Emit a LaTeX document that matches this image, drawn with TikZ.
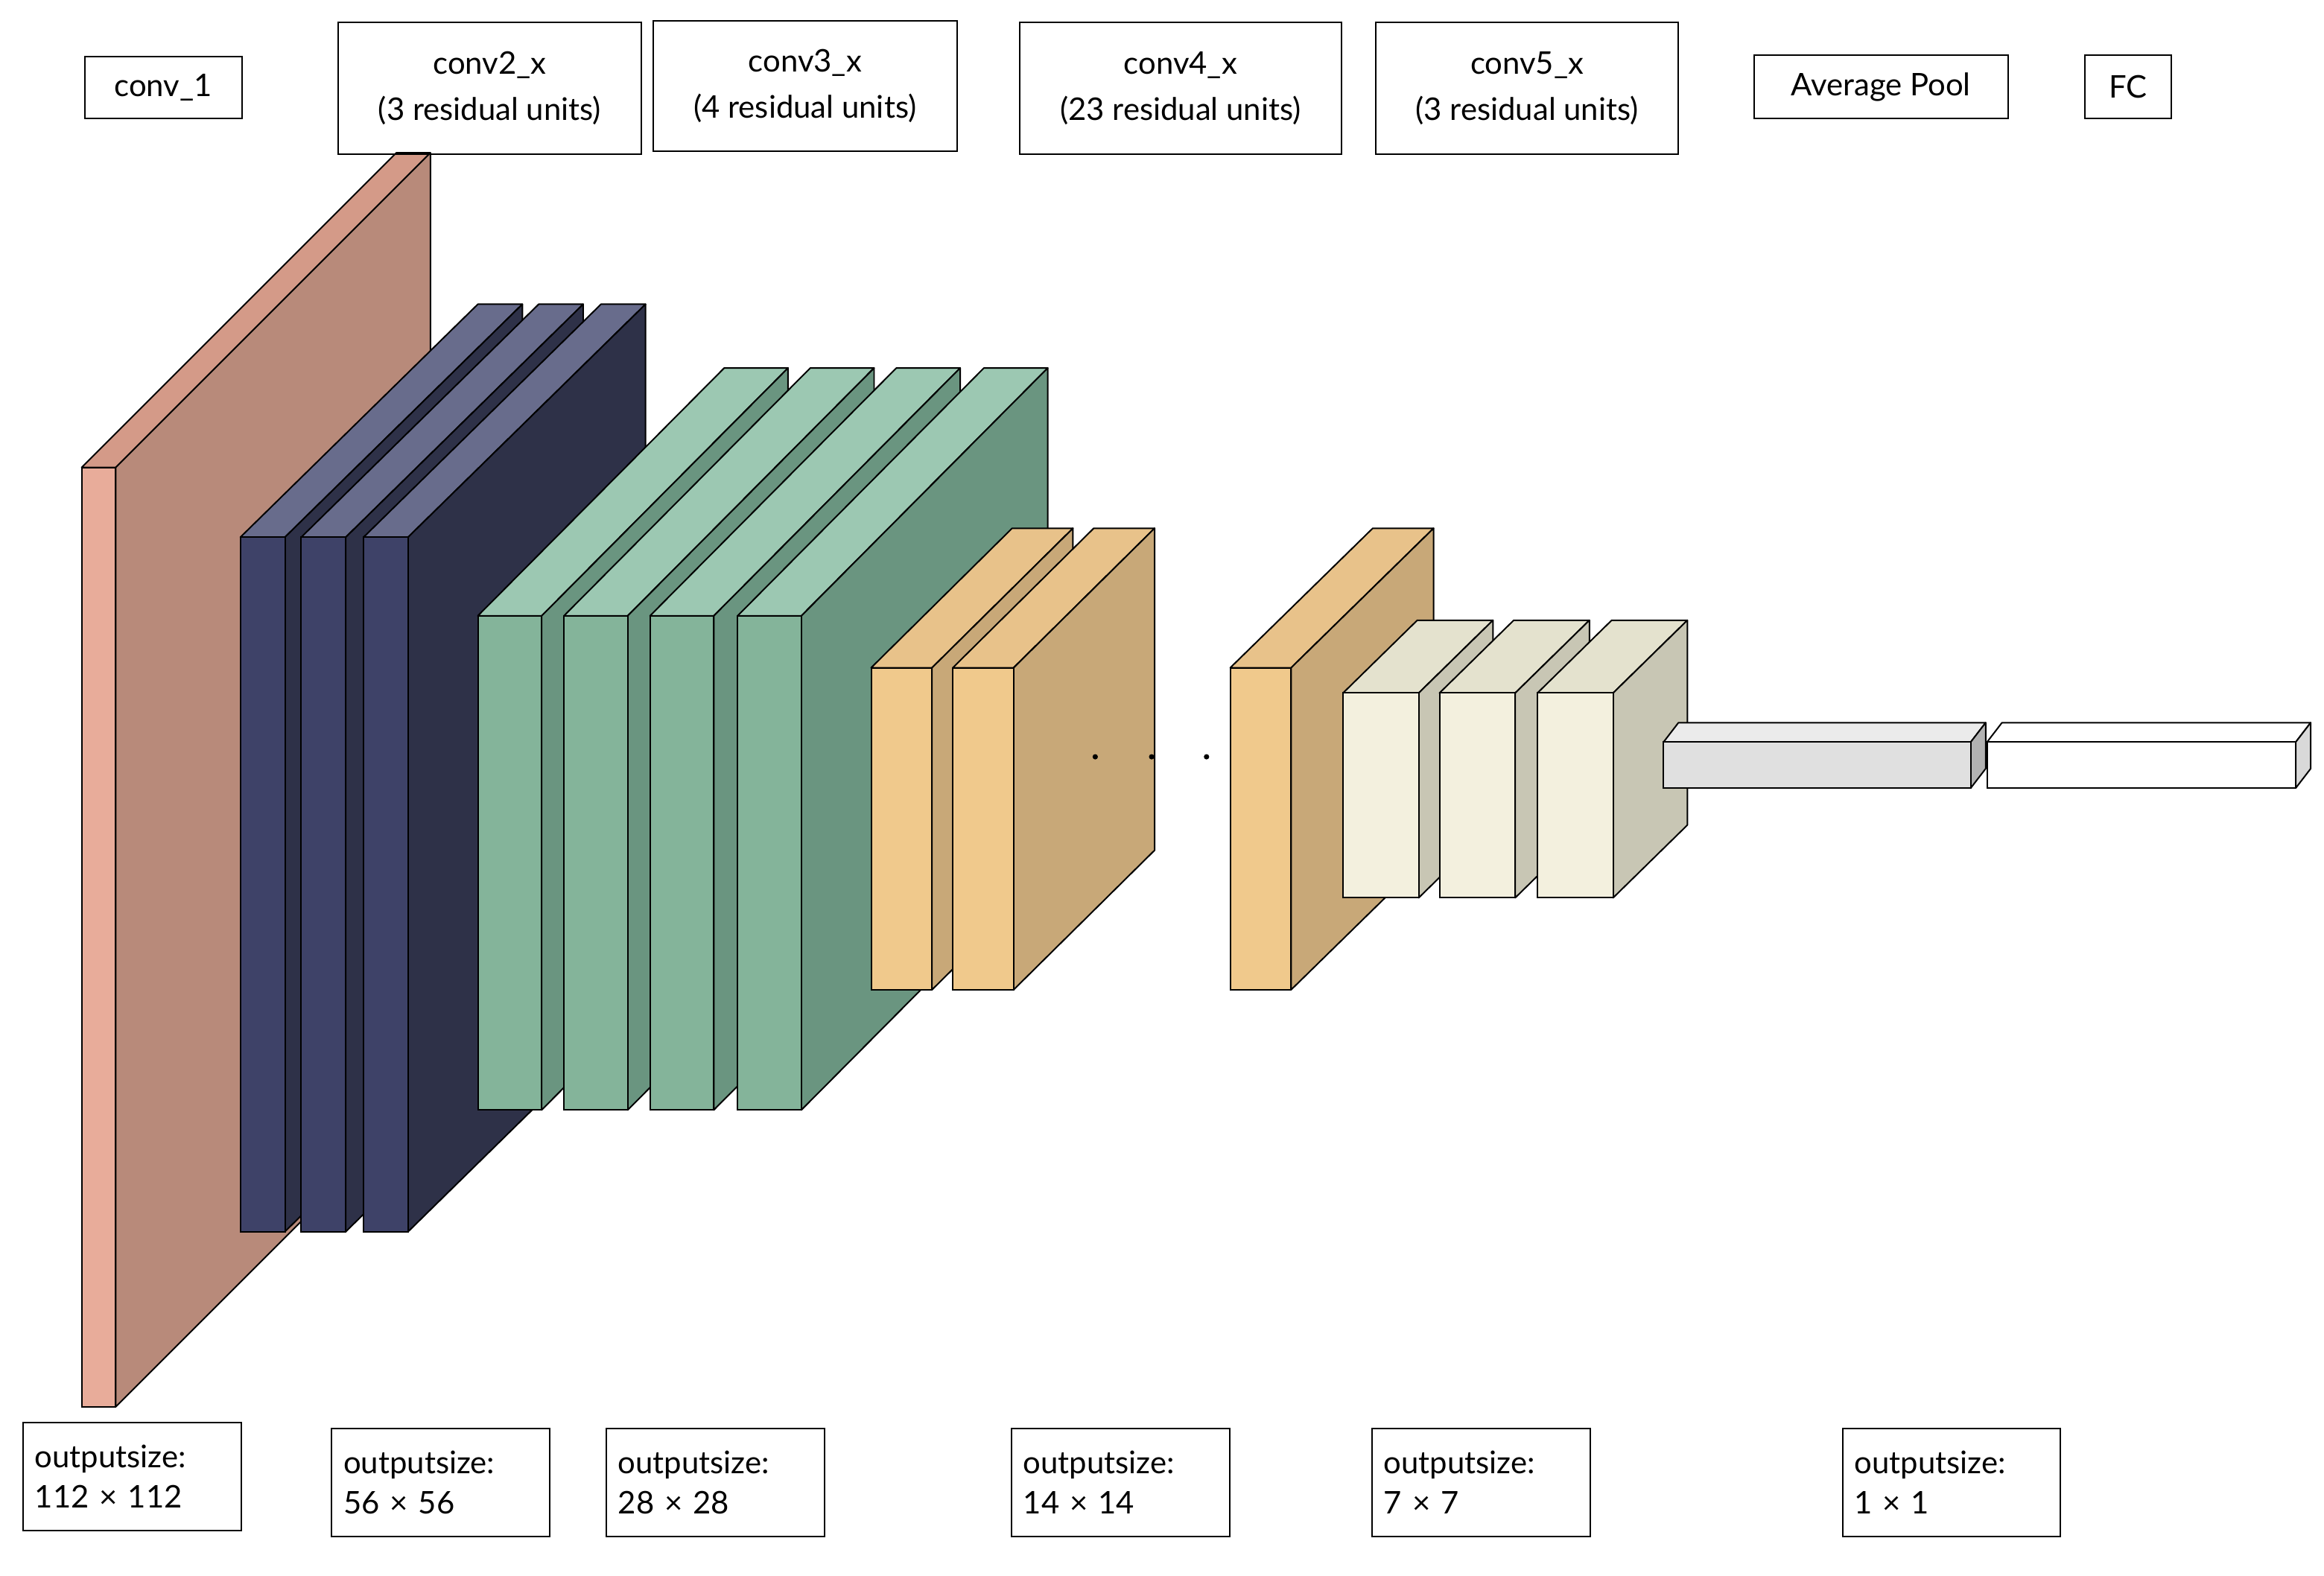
\documentclass[tikz,border=0pt]{standalone}
\usepackage{fontspec}
\setmainfont{Lato}
\newcommand\myslab[9]{%
 \filldraw[fill=#8,draw=black,line width=1pt,line join=round] (#1,#2)--(#1+#5,#2+#6)--(#3+#5,#2+#6)--(#3,#2)--cycle;
 \filldraw[fill=#9,draw=black,line width=1pt,line join=round] (#3,#2)--(#3+#5,#2+#6)--(#3+#5,#4+#6)--(#3,#4)--cycle;
 \filldraw[fill=#7,draw=black,line width=1pt] (#1,#2) rectangle (#3,#4);}
\begin{document}
\begin{tikzpicture}[x=1pt,y=-1pt,
 lab/.style={draw,line width=1pt,align=center,font=\fontsize{21}{31}\selectfont,inner sep=0pt},
 outbox/.style={draw,line width=1pt,align=left,font=\fontsize{21}{27}\selectfont,inner sep=8pt,anchor=north west,text width=131pt,minimum height=73pt}]
\useasboundingbox (0,0) rectangle (1566,1062);
\definecolor{pf}{HTML}{E8AC9A}\definecolor{pt}{HTML}{D49A88}\definecolor{ps}{HTML}{B88A7A}
\definecolor{bf}{HTML}{3E4268}\definecolor{bt}{HTML}{686C8C}\definecolor{bs}{HTML}{2E3148}
\definecolor{gf}{HTML}{84B49A}\definecolor{gt}{HTML}{9CC8B2}\definecolor{gs}{HTML}{6A9580}
\definecolor{of}{HTML}{F0C98C}\definecolor{ot}{HTML}{E8C28A}\definecolor{os}{HTML}{C8A878}
\definecolor{cf}{HTML}{F3F0DE}\definecolor{ct}{HTML}{E4E2CE}\definecolor{cs}{HTML}{C8C6B4}
% conv1
\myslab{55}{315}{78}{948}{212}{-212}{pf}{pt}{ps}
% conv2
\foreach \x in {162,203,245}{\myslab{\x}{362}{\x+30}{830}{160}{-157}{bf}{bt}{bs}}
% conv3
\foreach \x in {322,380,438,497}{\myslab{\x}{415}{\x+43}{748}{166}{-167}{gf}{gt}{gs}}
% conv4
\foreach \x in {587,642}{\myslab{\x}{450}{\x+41}{667}{95}{-94}{of}{ot}{os}}
\myslab{829}{450}{870}{667}{96}{-94}{of}{ot}{os}
\foreach \x in {738,776,813}{\fill (\x,510) circle (1.8);}
% conv5
\foreach \x in {905,970,1036}{\myslab{\x}{467}{\x+51}{605}{50}{-49}{cf}{ct}{cs}}
% pool, fc
\myslab{1121}{500}{1328}{531}{10}{-13}{black!12}{black!8}{black!30}
\myslab{1339}{500}{1547}{531}{10}{-13}{white}{white}{black!15}
% labels
\node[lab,minimum width=106pt,minimum height=42pt] (l1) at (110,59) {conv\_1};
\node[lab,minimum width=204pt,minimum height=89pt] (l2) at (330,59.5) {conv2\_x\\(3 residual units)};
\node[lab,minimum width=205pt,minimum height=88pt] (l3) at (542.5,58) {conv3\_x\\(4 residual units)};
\node[lab,minimum width=217pt,minimum height=89pt] (l4) at (795.5,59.5) {conv4\_x\\(23 residual units)};
\node[lab,minimum width=204pt,minimum height=89pt] (l5) at (1029,59.5) {conv5\_x\\(3 residual units)};
\node[lab,minimum width=171pt,minimum height=43pt] (l6) at (1267.5,58.5) {Average Pool};
\node[lab,minimum width=58pt,minimum height=43pt] (l7) at (1434,58.5) {FC};
\node[outbox] (o1) at (15,958) {outputsize:\\112 × 112};
\node[outbox] (o2) at (223,962) {outputsize:\\56 × 56};
\node[outbox] (o3) at (408,962) {outputsize:\\28 × 28};
\node[outbox] (o4) at (681,962) {outputsize:\\14 × 14};
\node[outbox] (o5) at (924,962) {outputsize:\\7 × 7};
\node[outbox] (o6) at (1241,962) {outputsize:\\1 × 1};
\end{tikzpicture}
\end{document}
